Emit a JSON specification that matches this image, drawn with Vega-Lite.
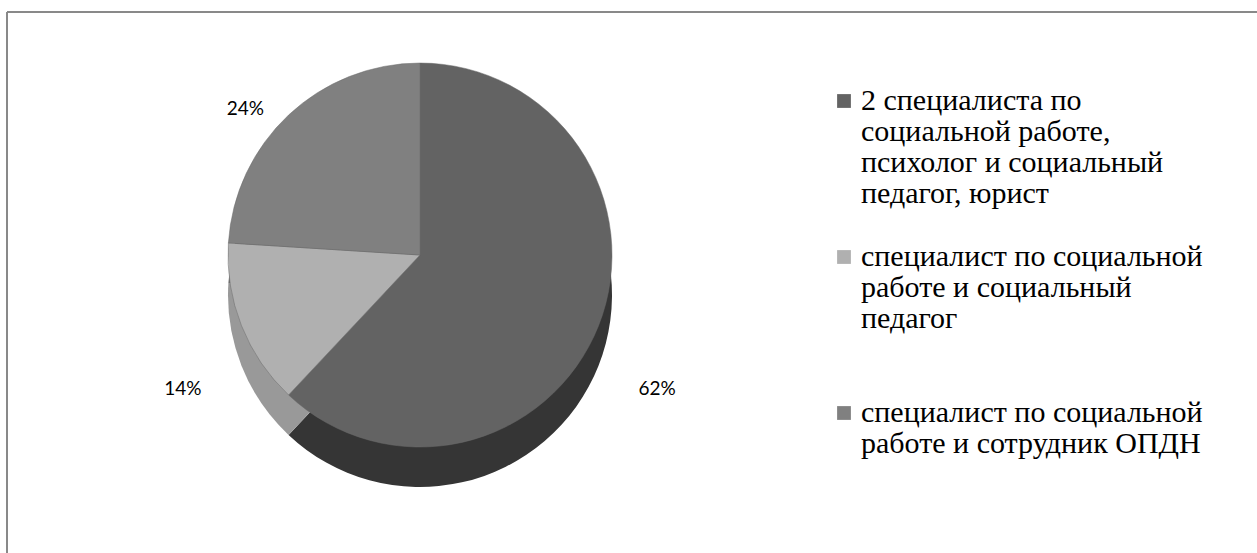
{
  "$schema": "https://vega.github.io/schema/vega-lite/v6.json",
  "width": 1250,
  "height": 541,
  "padding": {"left": 7, "top": 12, "right": 0, "bottom": 0},
  "autosize": {"type": "none"},
  "background": "white",
  "config": {
    "view": {"stroke": null},
    "style": {"guide-label": {"lineHeight": 31}}
  },
  "data": {
    "values": [
      {"category": "2 специалиста по социальной работе, психолог и социальный педагог, юрист", "share": 62, "label": "62%", "idx": 1},
      {"category": "специалист по социальной работе и социальный педагог", "share": 14, "label": "14%", "idx": 2},
      {"category": "специалист по социальной работе и сотрудник ОПДН", "share": 24, "label": "24%", "idx": 3}
    ]
  },
  "layer": [
    {
      "mark": {"type": "rule", "color": "#878787", "strokeWidth": 1.5},
      "encoding": {
        "x": {"datum": 0, "type": "quantitative", "scale": {"domain": [0, 1], "nice": false, "zero": false}, "axis": null}
      }
    },
    {
      "mark": {"type": "rule", "color": "#878787", "strokeWidth": 1.5},
      "encoding": {
        "y": {"datum": 1, "type": "quantitative", "scale": {"domain": [0, 1], "nice": false, "zero": false}, "axis": null}
      }
    },
    {
      "mark": {"type": "arc", "outerRadius": 192, "stroke": null},
      "encoding": {
        "theta": {"field": "share", "type": "quantitative", "stack": true},
        "order": {"field": "idx", "type": "quantitative"},
        "x": {"datum": 0.3304, "type": "quantitative", "scale": {"domain": [0, 1], "nice": false, "zero": false}, "axis": null},
        "y": {"datum": 0.4769, "type": "quantitative", "scale": {"domain": [0, 1], "nice": false, "zero": false}, "axis": null},
        "color": {
          "field": "category", "type": "nominal",
          "scale": {
            "domain": ["2 специалиста по социальной работе, психолог и социальный педагог, юрист", "специалист по социальной работе и социальный педагог", "специалист по социальной работе и сотрудник ОПДН"],
            "range": ["#353535", "#999999", "#6e6e6e"]
          },
          "legend": null
        }
      }
    },
    {
      "mark": {"type": "arc", "outerRadius": 192, "stroke": "#6a6a6a", "strokeWidth": 0.5},
      "encoding": {
        "theta": {"field": "share", "type": "quantitative", "stack": true},
        "order": {"field": "idx", "type": "quantitative"},
        "x": {"datum": 0.3304, "type": "quantitative", "scale": {"domain": [0, 1], "nice": false, "zero": false}, "axis": null},
        "y": {"datum": 0.5508, "type": "quantitative", "scale": {"domain": [0, 1], "nice": false, "zero": false}, "axis": null},
        "color": {
          "field": "category", "type": "nominal",
          "title": null,
          "scale": {
            "domain": ["2 специалиста по социальной работе, психолог и социальный педагог, юрист", "специалист по социальной работе и социальный педагог", "специалист по социальной работе и сотрудник ОПДН"],
            "range": ["#636363", "#b0b0b0", "#808080"]
          },
          "legend": {
            "orient": "none",
            "legendX": 822,
            "legendY": 74,
            "direction": "vertical",
            "symbolType": "square",
            "symbolSize": 190,
            "symbolStrokeWidth": 0,
            "labelFont": "Liberation Serif, Times New Roman, serif",
            "labelFontSize": 30,
            "labelColor": "#000000",
            "labelLimit": 0,
            "labelBaseline": "middle",
            "labelOffset": 2,
            "rowPadding": 33,
            "labelExpr": "datum.label == '2 специалиста по социальной работе, психолог и социальный педагог, юрист' ? ['2 специалиста по', 'социальной работе,', 'психолог и социальный', 'педагог, юрист'] : datum.label == 'специалист по социальной работе и социальный педагог' ? ['специалист по социальной', 'работе и социальный', 'педагог', ''] : ['специалист по социальной', 'работе и сотрудник ОПДН']"
          }
        }
      }
    },
    {
      "mark": {"type": "text", "radius": 255, "font": "Lato", "fontSize": 19, "color": "#000000"},
      "encoding": {
        "theta": {"field": "share", "type": "quantitative", "stack": true},
        "order": {"field": "idx", "type": "quantitative"},
        "x": {"datum": 0.3304, "type": "quantitative", "scale": {"domain": [0, 1], "nice": false, "zero": false}, "axis": null},
        "y": {"datum": 0.4769, "type": "quantitative", "scale": {"domain": [0, 1], "nice": false, "zero": false}, "axis": null},
        "text": {"field": "label"}
      }
    }
  ],
  "resolve": {"scale": {"color": "independent"}}
}
